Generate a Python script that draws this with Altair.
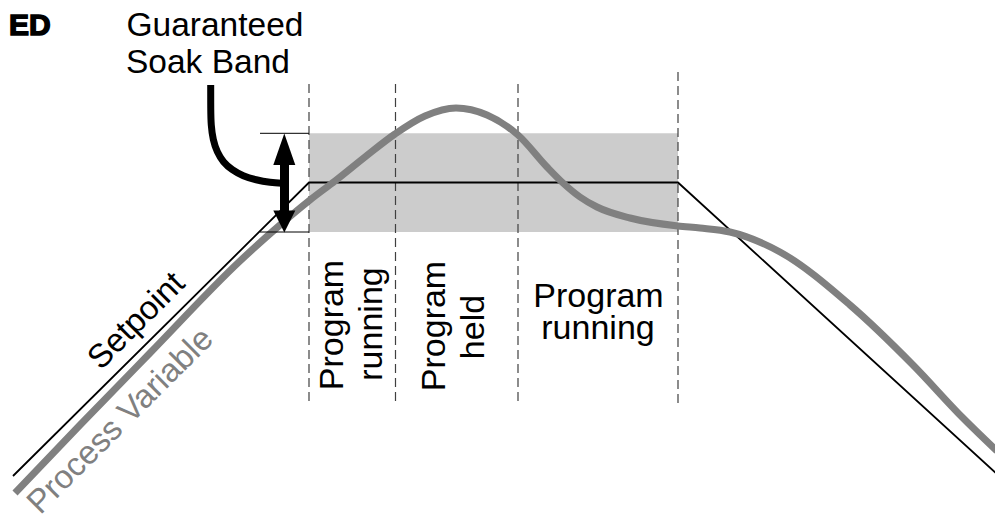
import altair as alt
import pandas as pd

# ---- schematic values (time on x, temperature on y; y grows downward in this frame) ----
setpoint_t = [13, 309, 678, 998]
setpoint_v = [476, 182.5, 182.5, 475]

pv_t = [15, 80, 150, 240, 280, 310, 335, 365, 395, 425, 456, 487, 518, 547, 563,
        580, 597, 630, 678, 700, 730, 780, 850, 913, 963, 997]
pv_v = [493, 425, 353, 261, 225, 200, 181, 157, 134, 116, 108, 115, 135, 167, 183,
        197, 207, 218, 226, 228, 232, 252, 305, 365, 418, 451]

band_t = [309, 678]
band_v = [133.3, 232]

phase_t = [309, 395.5, 518, 678]
phase_top = [84, 84, 84, 72]
phase_bottom = [404, 404, 404, 404]

limit_t = [260, 309]
limit_v = [133.3, 232]

leader_t = [210.7, 210.7, 211, 213, 217, 223, 232, 243, 256, 270, 284]
leader_v = [85, 110, 125, 140, 152, 162, 170, 176, 180, 182.5, 183.5]

shaft_t = [284.5]
shaft_v = [164, 211]

head_id = ["up", "up", "up", "down", "down", "down"]
head_t = [273.3, 284.3, 295.3, 273.3, 284.3, 295.3]
head_v = [165, 133.5, 165, 210.5, 232.5, 210.5]
head_base = [165, 165, 165, 210.5, 210.5, 210.5]

# texts
title_text = ["Guaranteed", "Soak Band"]
title_t = [126.5, 126]
title_v = [36, 73]

vert_text = ["Program", "running", "Program", "held"]
vert_t = [343, 382, 445, 484]
vert_v = [325, 324, 326, 327]

horiz_text = ["Program", "running"]
horiz_t = [598.5, 598]
horiz_v = [306.7, 339]

# ---- scales (page has an 8px margin, so the view covers 8..995 x 8..517) ----
xs = alt.Scale(domain=[8, 995], nice=False, zero=False)
ys = alt.Scale(domain=[8, 517], nice=False, zero=False, reverse=True)
FONT = "Liberation Sans"


def X(f="t"):
    return alt.X(f"{f}:Q", scale=xs, axis=None)


def Y(f="v"):
    return alt.Y(f"{f}:Q", scale=ys, axis=None)


band = alt.Chart(pd.DataFrame({"t": [band_t[0]], "t2": [band_t[1]],
                               "v": [band_v[0]], "v2": [band_v[1]]})).mark_rect(
    color="#cccccc").encode(x=X(), x2="t2:Q", y=Y(), y2="v2:Q")

phases = alt.Chart(pd.DataFrame({"t": phase_t, "v": phase_top, "v2": phase_bottom})).mark_rule(
    color="#404040", strokeWidth=1.2, strokeDash=[9, 5]).encode(x=X(), y=Y(), y2="v2:Q")

setpoint = alt.Chart(pd.DataFrame({"t": setpoint_t, "v": setpoint_v,
                                   "o": range(len(setpoint_t))})).mark_line(
    color="black", strokeWidth=1.8).encode(x=X(), y=Y(), order="o:Q")

pv = alt.Chart(pd.DataFrame({"t": pv_t, "v": pv_v})).mark_line(
    color="#808080", strokeWidth=7, interpolate="monotone").encode(x=X(), y=Y())

limits = alt.Chart(pd.DataFrame({"t": [limit_t[0]] * 2, "t2": [limit_t[1]] * 2,
                                 "v": limit_v})).mark_rule(
    color="black", strokeWidth=1).encode(x=X(), x2="t2:Q", y=Y())

leader = alt.Chart(pd.DataFrame({"t": leader_t, "v": leader_v,
                                 "o": range(len(leader_t))})).mark_line(
    color="black", strokeWidth=7, interpolate="basis", strokeCap="butt").encode(
    x=X(), y=Y(), order="o:Q")

shaft = alt.Chart(pd.DataFrame({"t": shaft_t, "v": [shaft_v[0]], "v2": [shaft_v[1]]})).mark_rule(
    color="black", strokeWidth=9).encode(x=X(), y=Y(), y2="v2:Q")

heads = alt.Chart(pd.DataFrame({"id": head_id, "t": head_t, "v": head_v,
                                "v2": head_base})).mark_area(
    color="black", opacity=1).encode(x=X(), y=Y(), y2="v2:Q", detail="id:N")

titles = alt.Chart(pd.DataFrame({"t": title_t, "v": title_v, "s": title_text})).mark_text(
    font=FONT, fontSize=33.5, align="left", baseline="alphabetic", color="black").encode(
    x=X(), y=Y(), text="s:N")

ed = alt.Chart(pd.DataFrame({"t": [9], "v": [35], "s": ["ED"]})).mark_text(
    font=FONT, fontSize=30, fontWeight="bold", align="left", baseline="alphabetic",
    color="black", stroke="black", strokeWidth=1.5).encode(x=X(), y=Y(), text="s:N")

vert = alt.Chart(pd.DataFrame({"t": vert_t, "v": vert_v, "s": vert_text})).mark_text(
    font=FONT, fontSize=34, align="center", baseline="alphabetic", angle=270,
    color="black").encode(x=X(), y=Y(), text="s:N")

horiz = alt.Chart(pd.DataFrame({"t": horiz_t, "v": horiz_v, "s": horiz_text})).mark_text(
    font=FONT, fontSize=34, align="center", baseline="alphabetic", color="black").encode(
    x=X(), y=Y(), text="s:N")

sp_label = alt.Chart(pd.DataFrame({"t": [136.5], "v": [321], "s": ["Setpoint"]})).mark_text(
    font=FONT, fontSize=33, align="center", baseline="middle", angle=315,
    color="black").encode(x=X(), y=Y(), text="s:N")

pv_label = alt.Chart(pd.DataFrame({"t": [120.5], "v": [421], "s": ["Process Variable"]})).mark_text(
    font=FONT, fontSize=33, align="center", baseline="middle", angle=315,
    color="#808080").encode(x=X(), y=Y(), text="s:N")

chart = alt.layer(
    band, phases, setpoint, pv, limits, leader, shaft, heads,
    titles, ed, vert, horiz, sp_label, pv_label
).properties(
    width=987, height=509, padding=0, autosize="none", background="white"
).configure_view(stroke=None)

chart.save("out.html", embed_options={"renderer": "svg", "actions": False})
